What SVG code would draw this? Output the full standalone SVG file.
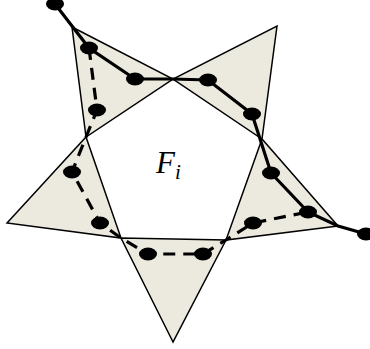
<svg xmlns="http://www.w3.org/2000/svg" width="370" height="349" viewBox="0 0 370 349">
<style>
.tri{fill:#ECEADF;stroke:#000;stroke-width:1.5;stroke-linejoin:miter}
.solid{fill:none;stroke:#000;stroke-width:3.2}
.dash{fill:none;stroke:#000;stroke-width:3.2;stroke-dasharray:12 8}
.dot{fill:#000}
.lbl{font-family:"Liberation Serif",serif;font-style:italic;fill:#000}
</style>
<rect width="370" height="349" fill="#fff"/>
<g id="star">
<polygon class="tri" points="72,27 173,79 86,137"/>
<polygon class="tri" points="277,26 262,139 173,79"/>
<polygon class="tri" points="338,226 226,240 262,139"/>
<polygon class="tri" points="173,342 121,238 226,240"/>
<polygon class="tri" points="7,223 86,137 121,238"/>
</g>
<g id="connectors">
<polyline class="solid" points="55,4 89,48 135,79 173,79 208,80 252,114 271,173 308,212 338,226 366,234"/>
<polyline class="dash" points="89,48 97,110 86,137 72,172 100,223 121,238 148,254 203,254 226,240 253,223 308,212"/>
</g>
<g id="dots">
<ellipse class="dot" cx="55" cy="4" rx="9" ry="6.5"/>
<ellipse class="dot" cx="89" cy="48" rx="9" ry="6.5"/>
<ellipse class="dot" cx="135" cy="79" rx="9" ry="6.5"/>
<ellipse class="dot" cx="208" cy="80" rx="9" ry="6.5"/>
<ellipse class="dot" cx="252" cy="114" rx="9" ry="6.5"/>
<ellipse class="dot" cx="271" cy="173" rx="9" ry="6.5"/>
<ellipse class="dot" cx="308" cy="212" rx="9" ry="6.5"/>
<ellipse class="dot" cx="366" cy="234" rx="9" ry="6.5"/>
<ellipse class="dot" cx="97" cy="110" rx="9" ry="6.5"/>
<ellipse class="dot" cx="72" cy="172" rx="9" ry="6.5"/>
<ellipse class="dot" cx="100" cy="223" rx="9" ry="6.5"/>
<ellipse class="dot" cx="148" cy="254" rx="9" ry="6.5"/>
<ellipse class="dot" cx="203" cy="254" rx="9" ry="6.5"/>
<ellipse class="dot" cx="253" cy="223" rx="9" ry="6.5"/>
</g>
<g id="label">
<text class="lbl" x="156" y="173" font-size="31">F<tspan font-size="21" dy="6">i</tspan></text>
</g>
</svg>
